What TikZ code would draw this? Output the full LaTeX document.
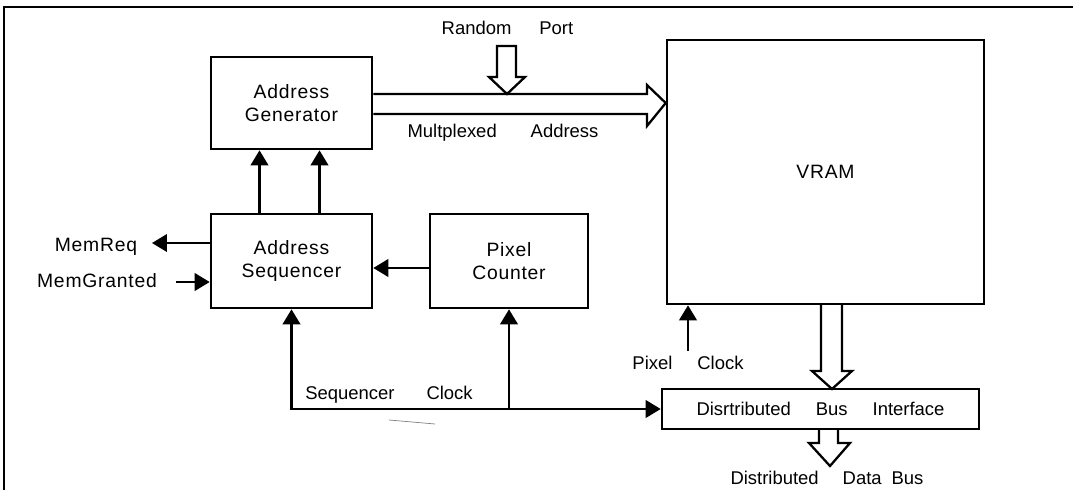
\documentclass[tikz,border=0pt]{standalone}
\usepackage{fontspec}
\setmainfont{Liberation Sans}
\newfontfamily\blockfont[LetterSpace=4]{Liberation Sans}
\usetikzlibrary{arrows.meta,calc}

\begin{document}
\begin{tikzpicture}[x=0.02cm,y=-0.02cm,
  blk/.style={draw,line width=1.5pt,align=center,font=\blockfont\fontsize{11}{13.5}\selectfont},
  lbl/.style={inner sep=0pt,font=\fontsize{10.5}{12}\selectfont},
  sig/.style={line width=1.3pt,line cap=rect,-{Triangle[length=0.3cm,width=0.35cm]}},
  bus/.style={line width=1.3pt,line join=miter}]
\useasboundingbox (0,0) rectangle (1073,490);
\draw[line width=1pt] (4,490) -- (4,7) -- (1073,7);

\node[blk,minimum width=3.22cm,minimum height=1.84cm] (gen) at (291.5,103) {Address\\Generator};
\node[blk,minimum width=3.22cm,minimum height=1.88cm] (seq) at (291.5,261) {Address\\Sequencer};
\node[blk,minimum width=3.16cm,minimum height=1.88cm] (pc) at (509,261) {Pixel\\Counter};
\node[blk,minimum width=6.34cm,minimum height=5.28cm] (vram) at (825.5,172) {VRAM};
\node[blk,minimum width=6.34cm,minimum height=0.8cm,font=\fontsize{10.5}{12}\selectfont] (busif) at (820.5,409)
  {Disrtributed\hspace{0.5cm}Bus\hspace{0.5cm}Interface};

\node[lbl] (random) at (507.5,28) {Random\hspace{0.56cm}Port};
\node[lbl] (muxaddr) at (503,133) {Multplexed\hspace{0.68cm}Address};
\node[lbl,font=\blockfont\fontsize{11}{13}\selectfont] (memreq) at (96,247) {MemReq};
\node[lbl,font=\blockfont\fontsize{11}{13}\selectfont] (memgnt) at (97,281) {MemGranted};
\node[lbl] (seqclk) at (389,395) {Sequencer\hspace{0.64cm}Clock};
\node[lbl] (pixclk) at (688,363) {Pixel\hspace{0.5cm}Clock};
\node[lbl] (databus) at (827,478) {Distributed\hspace{0.48cm}Data\hspace{0.2cm}Bus};

\coordinate (mreq) at (152,243);
\coordinate (mgnt) at (177,282);
\coordinate (pclk) at (688,350);
\coordinate (clk) at (seq.south |- busif.west);

\foreach \dx in {-32,28}
  \draw[sig] ($(seq.north)+(\dx,0)$) -- ($(gen.south)+(\dx,0)$);
\draw[sig] (seq.west |- mreq) -- (mreq);
\draw[sig] (mgnt) -- (seq.west |- mgnt);
\draw[sig] ($(pc.west)+(0,7)$) -- ($(seq.east)+(0,7)$);
\draw[sig] (clk) -- (seq.south);
\draw[sig] (pc.south |- clk) -- (pc.south);
\draw[sig] (clk) -- (busif.west);
\draw[sig] (pclk) -- (vram.south -| pclk);

\draw[bus] ($(gen.east)+(0,-9)$) -- (647,94) -- (647,85) -- (vram.west |- gen.east)
  -- (647,126) -- (647,114) -- ($(gen.east)+(0,11)$);
\draw[bus,fill=white] (497,46) -- (497,77) -- (489,77) -- (507,94) -- (525,77) -- (516,77) -- (516,46) -- cycle;
\draw[bus] (821,304) -- (821,371) -- (812,371) -- (832,389) -- (852,371) -- (842,371) -- (842,304);
\draw[bus] (819,429) -- (819,443) -- (809,443) -- (830,466) -- (850,443) -- (838,443) -- (838,429);

\draw[gray,line width=0.4pt] (389,420) -- (435,424);
\end{tikzpicture}
\end{document}
